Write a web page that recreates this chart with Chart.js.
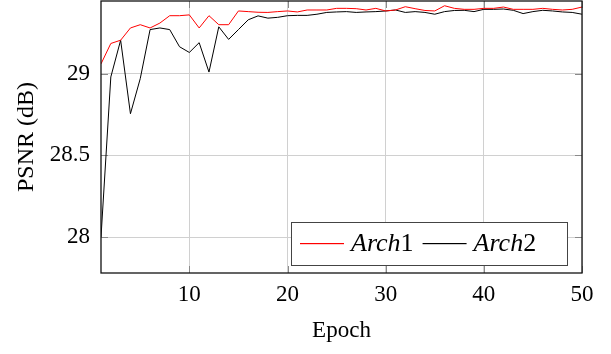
<!DOCTYPE html>
<html>
<head>
<meta charset="utf-8">
<script src="https://cdn.jsdelivr.net/npm/chart.js@4/dist/chart.umd.min.js"></script>
<style>
  html, body { margin: 0; padding: 0; background: #fff; }
  #wrap { width: 611px; height: 354px; }
</style>
</head>
<body>
<div id="wrap"><canvas id="psnr-graph" width="611" height="354"></canvas></div>
<script>
// values
const epochs = [1,2,3,4,5,6,7,8,9,10,11,12,13,14,15,16,17,18,19,20,21,22,23,24,25,
                26,27,28,29,30,31,32,33,34,35,36,37,38,39,40,41,42,43,44,45,46,47,48,49,50];
const arch1 = [29.06,29.185,29.205,29.28,29.30,29.28,29.31,29.355,29.355,29.36,
               29.28,29.355,29.30,29.30,29.384,29.38,29.376,29.375,29.38,29.384,
               29.378,29.39,29.39,29.39,29.40,29.40,29.398,29.39,29.40,29.384,
               29.39,29.41,29.398,29.387,29.384,29.416,29.40,29.394,29.394,29.40,
               29.40,29.408,29.394,29.394,29.394,29.40,29.394,29.39,29.394,29.408];
const arch2 = [28.0,28.98,29.205,28.755,28.97,29.27,29.28,29.27,29.165,29.13,
               29.19,29.01,29.287,29.21,29.27,29.33,29.354,29.34,29.345,29.355,
               29.357,29.357,29.364,29.375,29.378,29.38,29.375,29.378,29.38,29.384,
               29.39,29.375,29.38,29.375,29.364,29.38,29.387,29.388,29.38,29.394,
               29.394,29.396,29.388,29.368,29.38,29.388,29.384,29.378,29.375,29.364];
const seriesNames = ["Arch1", "Arch2"];
const seriesColors = ["#ff0000", "#000000"];
const xTicks = [10, 20, 30, 40, 50];
const yTicks = [28, 28.5, 29];

const FONT = "'Liberation Serif', 'Times New Roman', serif";

function toPoints(ys) {
    return epochs.map((e, i) => ({ x: e, y: ys[i] }));
}

// kill the half-label padding chart.js reserves at the axis ends
function noPad(scale) {
    scale.paddingTop = 0;
    scale.paddingBottom = 0;
    scale.paddingLeft = 0;
    scale.paddingRight = 0;
}

// tick marks, frame and legend box inside the plot (pgfplots style)
const frameAndLegend = {
    id: 'frameAndLegend',
    beforeDatasetsDraw(chart) {
        const ctx = chart.ctx;
        const a = chart.chartArea;
        const xs = chart.scales.x, ys = chart.scales.y;
        ctx.save();
        ctx.strokeStyle = '#8a8a8a';
        ctx.lineWidth = 1;
        ctx.beginPath();
        xTicks.forEach(v => {
            const px = Math.round(xs.getPixelForValue(v)) + 0.5;
            ctx.moveTo(px, a.bottom); ctx.lineTo(px, a.bottom - 7);
            ctx.moveTo(px, a.top); ctx.lineTo(px, a.top + 7);
        });
        yTicks.forEach(v => {
            const py = Math.round(ys.getPixelForValue(v)) + 0.5;
            ctx.moveTo(a.left, py); ctx.lineTo(a.left + 7, py);
            ctx.moveTo(a.right, py); ctx.lineTo(a.right - 7, py);
        });
        ctx.stroke();
        ctx.restore();
    },
    afterDraw(chart) {
        const ctx = chart.ctx;
        const a = chart.chartArea;
        ctx.save();
        ctx.strokeStyle = '#111';
        ctx.lineWidth = 1.3;
        ctx.strokeRect(a.left, a.top, a.right - a.left, a.bottom - a.top);

        // legend
        const boxRight = a.right - 15, boxBottom = a.bottom - 8;
        const boxW = 276, boxH = 43;
        const bx = boxRight - boxW, by = boxBottom - boxH;
        ctx.fillStyle = '#fff';
        ctx.fillRect(bx, by, boxW, boxH);
        ctx.strokeStyle = '#444';
        ctx.lineWidth = 1;
        ctx.strokeRect(bx + 0.5, by + 0.5, boxW, boxH);

        const cy = by + 21;
        let x = bx + 9;
        seriesNames.forEach((name, i) => {
            ctx.fillStyle = seriesColors[i];
            ctx.fillRect(x, cy, 44, 1.2);
            x += 51;
            const word = name.slice(0, -1), digit = name.slice(-1);
            ctx.fillStyle = '#000';
            ctx.textBaseline = 'middle';
            ctx.textAlign = 'left';
            ctx.font = "italic 26px " + FONT;
            ctx.fillText(word, x, cy + 1.5);
            x += ctx.measureText(word).width;
            ctx.font = "26px " + FONT;
            ctx.fillText(digit, x, cy + 1.5);
            x += ctx.measureText(digit).width + 9;
        });
        ctx.restore();
    }
};

const ctx = document.getElementById('psnr-graph').getContext('2d');
const chart = new Chart(ctx, {
    type: 'line',
    data: {
        datasets: [
            {
                label: seriesNames[0],
                data: toPoints(arch1),
                borderColor: seriesColors[0],
                borderWidth: 1,
                pointRadius: 0,
                tension: 0,
                fill: false
            },
            {
                label: seriesNames[1],
                data: toPoints(arch2),
                borderColor: seriesColors[1],
                borderWidth: 1,
                pointRadius: 0,
                tension: 0,
                fill: false
            }
        ]
    },
    options: {
        responsive: false,
        animation: false,
        layout: { padding: { top: 1, right: 29, bottom: 0, left: 0 } },
        plugins: {
            legend: { display: false },
            tooltip: { enabled: false }
        },
        scales: {
            x: {
                type: 'linear',
                min: 1,
                max: 50,
                afterBuildTicks: scale => { scale.ticks = xTicks.map(v => ({ value: v })); },
                afterFit: scale => { scale.height = 81; noPad(scale); },
                grid: { color: '#d0d0d0', drawTicks: false },
                border: { display: false },
                ticks: {
                    color: '#000',
                    padding: 8,
                    maxRotation: 0,
                    font: { family: FONT, size: 23 }
                },
                title: {
                    display: true,
                    text: 'Epoch',
                    color: '#000',
                    padding: { top: 9, bottom: 9 },
                    font: { family: FONT, size: 23 }
                }
            },
            y: {
                type: 'linear',
                min: 27.78,
                max: 29.445,
                afterBuildTicks: scale => { scale.ticks = yTicks.map(v => ({ value: v })); },
                afterFit: scale => { scale.width = 101; noPad(scale); },
                grid: { color: '#d0d0d0', drawTicks: false },
                border: { display: false },
                ticks: {
                    color: '#000',
                    padding: 11,
                    callback: v => String(v),
                    font: { family: FONT, size: 23 }
                },
                title: {
                    display: true,
                    text: 'PSNR (dB)',
                    color: '#000',
                    padding: { top: 12, bottom: 12 },
                    font: { family: FONT, size: 24 }
                }
            }
        }
    },
    plugins: [frameAndLegend]
});
</script>
</body>
</html>
